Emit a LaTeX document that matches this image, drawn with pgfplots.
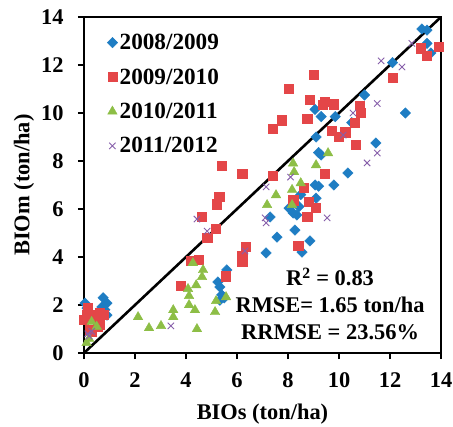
\documentclass[border=0pt]{standalone}
\usepackage{fontspec}
\setmainfont{Liberation Serif}
\usepackage{pgfplots}
\pgfplotsset{compat=1.18}
\definecolor{cblue}{RGB}{30,125,195}
\definecolor{cred}{RGB}{228,70,72}
\definecolor{cgreen}{RGB}{141,190,70}
\definecolor{cpurple}{RGB}{135,95,170}
\pgfplotsset{ptleg/.style={only marks, legend image code/.code={\draw[##1] plot coordinates {(0cm,0cm)};}}}
\newcommand{\bigf}{\fontsize{22.5}{27}\selectfont\bfseries}
\newcommand{\legf}{\fontsize{23.3}{27}\selectfont\bfseries}
\begin{document}
\begin{tikzpicture}
\begin{axis}[
 scale only axis, width=357bp, height=336bp,
 xmin=0,xmax=14,ymin=0,ymax=14,
 xtick={0,2,...,14}, ytick={0,2,...,14},
 tick align=outside, tick pos=left,
 major tick length=6bp,
 every tick/.style={black, line width=1.6bp},
 axis line style={line width=2.6bp, black},
 /pgf/number format/assume math mode=true,
 ticklabel style={font=\bigf},
 xticklabel style={yshift=-10bp},
 yticklabel style={xshift=-11bp},
 label style={font=\bigf},
 xlabel style={yshift=-9bp},
 xlabel={BIOs (ton/ha)}, ylabel={BIOm (ton/ha)},
 legend cell align=left,
 legend style={draw=none, fill=none, at={(0,1)}, anchor=north west, xshift=20bp, yshift=-13bp, font=\legf, row sep=13.5bp},
 clip=false,
]
\addplot[ptleg, mark=square*, mark size=3.7bp, mark options={rotate=45}, color=cblue] coordinates {
(13.25,13.5)(13.45,13.45)(13.45,12.9)(13.6,12.5)(12.1,12.1)(12.6,10.0)(11.0,10.75)(10.5,9.6)(9.06,10.15)(9.3,9.85)(9.85,9.85)(9.1,9.0)(11.45,8.75)(9.2,8.35)(9.3,8.25)(10.35,7.5)(9.06,7.0)(9.2,6.95)(9.8,7.0)(8.5,6.6)(9.1,6.45)(8.43,6.1)(8.04,6.04)(8.2,5.83)(8.35,5.75)(7.3,5.67)(8.27,5.12)(7.57,4.83)(8.86,4.67)(7.14,4.17)(8.55,4.2)(5.6,3.46)(5.25,2.96)(5.33,2.75)(5.4,2.42)(5.5,2.3)(5.33,2.2)(0.75,2.3)(0.9,2.08)(0.82,1.8)(0.63,1.58)(0.04,2.08)(0.12,1.87)(0.7,1.92)(0.9,1.58)
};
\addlegendentry{2008/2009}
\addplot[ptleg, mark=square*, mark size=4.6bp, color=cred] coordinates {
(13.9,12.75)(13.2,12.7)(13.45,12.4)(12.1,11.46)(9.0,11.6)(8.04,11.0)(8.86,10.54)(9.45,10.46)(9.37,10.33)(9.8,10.37)(10.8,10.3)(10.86,10.0)(10.6,9.6)(8.75,9.75)(7.76,9.7)(7.4,9.33)(9.7,9.25)(10.24,9.2)(10.0,9.0)(10.67,8.67)(9.45,7.46)(6.2,7.46)(7.4,7.4)(5.4,7.8)(5.3,6.5)(5.2,6.2)(4.63,5.67)(5.18,5.17)(4.83,4.8)(6.35,4.42)(6.2,4.04)(6.2,3.8)(4.2,3.83)(4.5,3.88)(5.57,3.2)(3.8,2.8)(8.63,6.9)(8.2,6.37)(8.82,6.3)(9.1,6.04)(8.75,5.67)(8.4,4.46)(0.16,1.87)(0.63,1.67)(0.0,1.4)(0.12,1.58)(0.63,1.17)(0.3,0.88)(0.55,1.58)(0.24,1.5)(0.55,1.08)(0.24,0.96)(0.75,1.6)
};
\addlegendentry{2009/2010}
\addplot[ptleg, mark=triangle*, mark size=5.5bp, color=cgreen] coordinates {
(9.57,8.33)(9.1,7.83)(8.2,7.9)(8.24,7.54)(8.5,7.08)(8.16,6.8)(7.53,6.58)(7.18,6.17)(8.16,6.17)(4.27,3.75)(4.67,3.46)(4.63,3.17)(4.4,2.83)(4.08,2.67)(4.12,2.38)(4.12,2.0)(4.35,1.79)(3.5,1.79)(3.5,1.5)(2.12,1.5)(2.55,1.04)(3.02,1.13)(4.43,1.0)(5.57,2.33)(5.18,2.17)(5.14,1.71)(0.3,1.3)(0.5,1.1)(0.1,0.42)(0.2,0.6)
};
\addlegendentry{2010/2011}
\addplot[ptleg, mark=x, mark size=4.5bp, line width=0.9bp, color=cpurple] coordinates {
(12.86,12.9)(11.65,12.17)(12.47,11.92)(11.5,10.4)(10.55,10.0)(10.16,9.08)(11.5,8.33)(11.1,7.92)(8.1,7.33)(7.14,6.92)(9.53,5.63)(7.1,5.63)(7.14,5.42)(4.43,5.58)(4.83,5.08)(6.31,4.25)(3.41,1.13)(0.15,0.8)(0.3,0.9)(0.2,0.7)
};
\addlegendentry{2011/2012}
\addplot[black, line width=2.6bp, no marks, forget plot] coordinates {(0,0)(14,14)};
\draw[black, line width=2.6bp] (axis cs:0,14) -- (axis cs:14,14) -- (axis cs:14,0);
\node[align=center, font=\bigf, inner sep=0pt] at (axis cs:9.65,2.05) {R\textsuperscript{2} = 0.83\\RMSE= 1.65 ton/ha\\RRMSE = 23.56\%};
\end{axis}
\path (current axis.south west) ++(-84bp,-74bp) coordinate (bba) ++(453bp,427bp) coordinate (bbb);
\pgfresetboundingbox
\useasboundingbox (bba) rectangle (bbb);
\end{tikzpicture}
\end{document}
